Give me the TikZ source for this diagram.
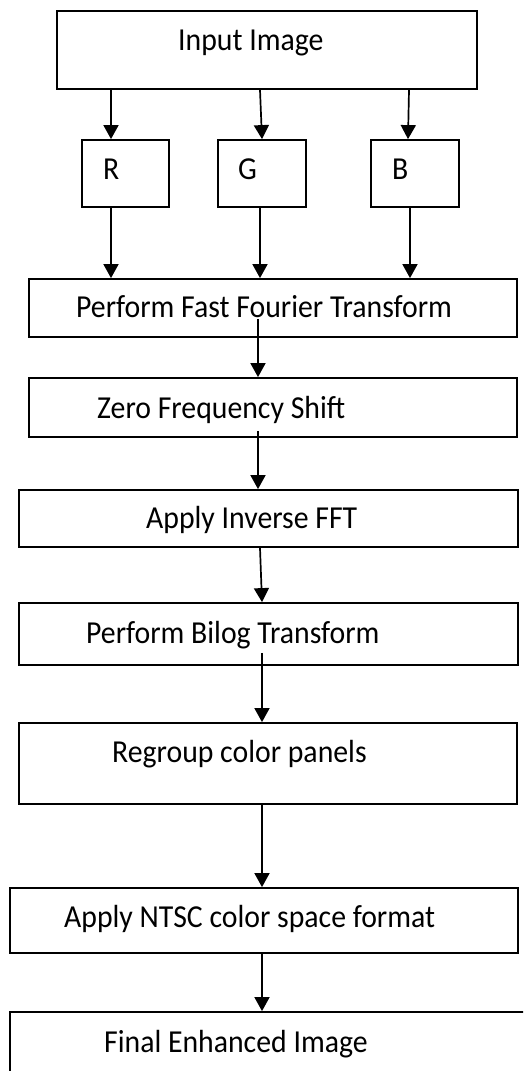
\documentclass[tikz,border=0pt]{standalone}
\usepackage{fontspec}
\setmainfont[FakeStretch=0.93]{Carlito}
\usetikzlibrary{arrows.meta}
\begin{document}
\begin{tikzpicture}[x=1pt,y=-1pt,
  box/.style={draw=black,line width=1.8pt,rectangle,inner sep=0pt,fill=none},
  lbl/.style={anchor=base west,inner sep=0pt,font=\fontsize{32}{38}\selectfont},
  arr/.style={line width=1.7pt,-{Triangle[length=14pt,width=15pt]}}]
\clip (0,0) rectangle (523,1071);
\fill[white] (0,0) rectangle (523,1071);
% boxes
\node[box,minimum width=420pt,minimum height=78pt] (input) at (267,50) {};
\node[box,minimum width=87pt,minimum height=67pt] (r) at (125.5,173.5) {};
\node[box,minimum width=88pt,minimum height=67pt] (g) at (262,173.5) {};
\node[box,minimum width=88pt,minimum height=67pt] (b) at (415,173.5) {};
\node[box,minimum width=488pt,minimum height=58pt] (fft) at (273,308) {};
\node[box,minimum width=488pt,minimum height=59pt] (zero) at (273,407.5) {};
\node[box,minimum width=499pt,minimum height=57pt] (apply) at (268.5,518.5) {};
\node[box,minimum width=499pt,minimum height=62pt] (bilog) at (268.5,634) {};
\node[box,minimum width=498pt,minimum height=81pt] (regroup) at (268,763.5) {};
\node[box,minimum width=508pt,minimum height=65pt] (ntsc) at (264,920.5) {};
\node[box,minimum width=520pt,minimum height=88pt] (final) at (270,1056) {};
% texts
\node[lbl] (tinput) at (178,50) {Input Image};
\node[lbl] (tr) at (103,179) {R};
\node[lbl] (tg) at (238,179) {G};
\node[lbl] (tb) at (392,179) {B};
\node[lbl] (tfft) at (76,317) {Perform Fast Fourier Transform};
\node[lbl] (tzero) at (97,418) {Zero Frequency Shift};
\node[lbl] (tapply) at (146,528) {Apply Inverse FFT};
\node[lbl] (tbilog) at (86,643) {Perform Bilog Transform};
\node[lbl] (tregroup) at (112,762) {Regroup color panels};
\node[lbl] (tntsc) at (64,927) {Apply NTSC color space format};
\node[lbl] (tfinal) at (104,1052) {Final Enhanced Image};
% arrows
\draw[arr] (input.south -| 111,0) -- (r.north -| 111,0);
\draw[arr] (input.south -| 260,0) -- (g.north -| 262,0);
\draw[arr] (input.south -| 409,0) -- (b.north -| 408,0);
\draw[arr] (r.south -| 111,0) -- (fft.north -| 111,0);
\draw[arr] (g.south -| 260,0) -- (fft.north -| 260,0);
\draw[arr] (b.south -| 410,0) -- (fft.north -| 410,0);
\draw[arr] ([yshift=19pt]fft.south -| 258,0) -- (zero.north -| 258,0);
\draw[arr] ([yshift=7pt]zero.south -| 258,0) -- (apply.north -| 258,0);
\draw[arr] (apply.south -| 260,0) -- (bilog.north -| 262,0);
\draw[arr] ([yshift=13pt]bilog.south -| 262,0) -- (regroup.north -| 262,0);
\draw[arr] (regroup.south -| 262,0) -- (ntsc.north -| 262,0);
\draw[arr] (ntsc.south -| 262,0) -- (final.north -| 262,0);
\end{tikzpicture}
\end{document}
